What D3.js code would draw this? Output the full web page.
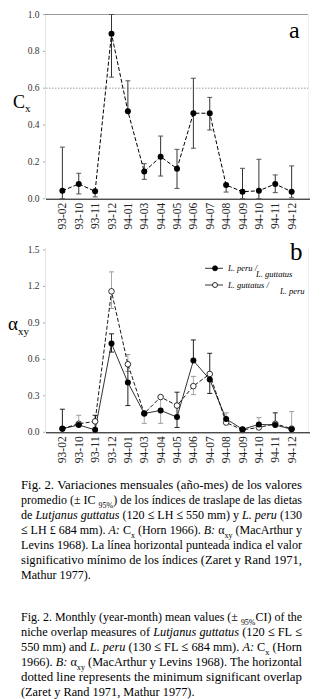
<!DOCTYPE html>
<html><head><meta charset="utf-8">
<script src="https://cdn.jsdelivr.net/npm/d3@7"></script>
<style>
html,body{margin:0;padding:0;background:#fff;}
svg{display:block;}
</style></head>
<body><svg id="c" width="329" height="699"></svg>
<script>
// ---------- DATA ----------
const months = ["93-02","93-10","93-11","93-12","94-01","94-03","94-04","94-05","94-06","94-07","94-08","94-09","94-10","94-11","94-12"];

// Panel a: Cx (Horn)
const cxMean = [0.043,0.08,0.04,0.895,0.475,0.147,0.228,0.163,0.464,0.464,0.074,0.038,0.043,0.08,0.038];
const cxLow  = [0.0,0.026,0.01,0.66,0.475,0.105,0.123,0.056,0.274,0.373,0.036,0.0,0.0,0.033,0.005];
const cxHigh = [0.28,0.138,0.04,1.0,0.64,0.19,0.34,0.268,0.654,0.55,0.074,0.165,0.214,0.129,0.178];
const cxTicks = [0,0.2,0.4,0.6,0.8,1.0];
const cxThreshold = 0.6;

// Panel b: alpha xy (MacArthur & Levins)
const seriesNames = ["L. peru / L. guttatus","L. guttatus / L. peru"];
const aPeruGut = [0.03,0.06,0.02,0.73,0.41,0.155,0.18,0.125,0.59,0.435,0.11,0.025,0.065,0.06,0.025];
const aPeruGutLow  = [0.03,0.06,0.02,0.66,0.22,0.155,0.18,0.04,0.59,0.32,0.11,0.025,0.065,0.06,0.025];
const aPeruGutHigh = [0.19,0.06,0.14,0.81,0.55,0.155,0.18,0.33,0.76,0.65,0.11,0.025,0.065,0.16,0.025];
const aGutPeru = [0.03,0.07,0.09,1.16,0.56,0.155,0.29,0.22,0.38,0.48,0.08,0.02,0.04,0.07,0.03];
const aGutPeruLow  = [0.03,0.07,0.09,1.02,0.50,0.074,0.074,0.22,0.31,0.48,0.08,0.02,0.04,0.07,0.03];
const aGutPeruHigh = [0.03,0.14,0.09,1.32,0.64,0.155,0.29,0.22,0.46,0.48,0.16,0.02,0.12,0.07,0.17];
const axyTicks = [0,0.3,0.6,0.9,1.2,1.5];

// Caption
const captionEs = [
 "Fig. 2. Variaciones mensuales (año-mes) de los valores",
 "promedio (± IC _{95%}) de los índices de traslape de las dietas",
 "de *Lutjanus* *guttatus* (120 ≤ LH ≤ 550 mm) y *L.* *peru* (130",
 "≤ LH £ 684 mm). *A:* C_{x} (Horn 1966). *B:* α_{xy} (MacArthur y",
 "Levins 1968). La línea horizontal punteada indica el valor",
 "significativo mínimo de los índices (Zaret y Rand 1971,",
 "Mathur 1977)."
];
const captionEn = [
 "Fig. 2. Monthly (year-month) mean values (± _{95%}CI) of the",
 "niche overlap measures of *Lutjanus* *guttatus* (120 ≤ FL ≤",
 "550 mm) and *L.* *peru* (130 ≤ FL ≤ 684 mm). *A:* C_{x} (Horn",
 "1966). *B:* α_{xy} (MacArthur y Levins 1968). The horizontal",
 "dotted line represents the minimum significant overlap",
 "(Zaret y Rand 1971, Mathur 1977)."
];

// ---------- DRAW ----------
const SERIF = "Liberation Serif";
const svg = d3.select("#c");
const x = d3.scalePoint().domain(months).range([46,308]).padding(1);

function panel(yScale, ticks, bottom, top) {
  const g = svg.append("g");
  g.append("line").attr("x1",45.5).attr("x2",45.5).attr("y1",top).attr("y2",bottom).attr("stroke","#e4e4e4");
  g.append("line").attr("x1",308.5).attr("x2",308.5).attr("y1",top).attr("y2",bottom).attr("stroke","#eeeeee");
  g.append("line").attr("x1",46).attr("x2",310).attr("y1",bottom+0.5).attr("y2",bottom+0.5).attr("stroke","#000").attr("stroke-width",1);
  ticks.forEach(t=>{
    g.append("text").attr("x",39.5).attr("y",yScale(t)+3).attr("text-anchor","end").style("font-family",SERIF)
      .attr("font-size",9.5).attr("fill","#333").text(d3.format(".1f")(t));
    g.append("rect").attr("x",43.5).attr("y",yScale(t)-0.5).attr("width",1).attr("height",1).attr("fill","#555");
  });
  months.forEach(m=>{
    g.append("text").attr("transform",`translate(${x(m)+4},${bottom+4}) rotate(-90)`).style("font-family",SERIF)
      .attr("text-anchor","end").attr("font-size",11.5).attr("fill","#222").text(m);
  });
  return g;
}

function errorBars(g, yScale, lo, hi, color, w) {
  months.forEach((m,i)=>{
    const cx = x(m);
    if (hi[i] > lo[i]) {
      g.append("line").attr("x1",cx).attr("x2",cx).attr("y1",yScale(lo[i])).attr("y2",yScale(hi[i]))
        .attr("stroke",color).attr("stroke-width",w);
    }
  });
}
function caps(g, yScale, vals, means, color) {
  months.forEach((m,i)=>{
    if (Math.abs(vals[i]-means[i])>0.005) {
      g.append("line").attr("x1",x(m)-2.5).attr("x2",x(m)+2.5).attr("y1",yScale(vals[i])).attr("y2",yScale(vals[i]))
        .attr("stroke",color).attr("stroke-width",1);
    }
  });
}

// ----- Panel a -----
const yA = d3.scaleLinear().domain([0,1]).range([198.7,14.5]);
const gA = panel(yA, cxTicks, 198.7, 14.5);
gA.append("line").attr("x1",45).attr("x2",308).attr("y1",yA(1)).attr("y2",yA(1)).attr("stroke","#999").attr("stroke-width",1);
gA.append("line").attr("x1",46).attr("x2",308).attr("y1",yA(cxThreshold)).attr("y2",yA(cxThreshold))
  .attr("stroke","#999").attr("stroke-width",1).attr("stroke-dasharray","1.5,1.5");
errorBars(gA, yA, cxLow, cxHigh, "#333", 1);
caps(gA, yA, cxLow, cxMean, "#555");
caps(gA, yA, cxHigh, cxMean, "#555");
gA.append("path").datum(cxMean).attr("fill","none").attr("stroke","#000").attr("stroke-width",1)
  .attr("stroke-dasharray","4,2")
  .attr("d", d3.line().x((d,i)=>x(months[i])).y(d=>yA(d)));
gA.selectAll("circle.a").data(cxMean).join("circle").attr("cx",(d,i)=>x(months[i])).attr("cy",d=>yA(d)).attr("r",3).attr("fill","#000");
svg.append("text").attr("x",13).attr("y",108).attr("font-size",18).style("font-family",SERIF).text("C")
  .append("tspan").attr("font-size",11).attr("dy",4).text("x");
svg.append("text").attr("x",289).attr("y",38).attr("font-size",24).style("font-family",SERIF).text("a");

// ----- Panel b -----
const yB = d3.scaleLinear().domain([0,1.5]).range([432.3,250]);
const gB = panel(yB, axyTicks, 432.3, 248);
errorBars(gB, yB, aGutPeruLow, aGutPeruHigh, "#aaa", 1);
caps(gB, yB, aGutPeruLow, aGutPeru, "#999");
caps(gB, yB, aGutPeruHigh, aGutPeru, "#999");
errorBars(gB, yB, aPeruGutLow, aPeruGutHigh, "#222", 1);
caps(gB, yB, aPeruGutLow, aPeruGut, "#222");
caps(gB, yB, aPeruGutHigh, aPeruGut, "#222");
const lineB = d3.line().x((d,i)=>x(months[i])).y(d=>yB(d));
gB.append("path").datum(aGutPeru).attr("fill","none").attr("stroke","#000").attr("stroke-width",0.9)
  .attr("stroke-dasharray","4,2").attr("d",lineB);
gB.append("path").datum(aPeruGut).attr("fill","none").attr("stroke","#000").attr("stroke-width",0.8).attr("d",lineB);
gB.selectAll("circle.o").data(aGutPeru).join("circle").attr("cx",(d,i)=>x(months[i])).attr("cy",d=>yB(d)).attr("r",2.8)
  .attr("fill","#fff").attr("stroke","#000").attr("stroke-width",0.8);
gB.selectAll("circle.f").data(aPeruGut).enter().append("circle").attr("cx",(d,i)=>x(months[i])).attr("cy",d=>yB(d)).attr("r",3).attr("fill","#000");
svg.append("text").attr("x",8).attr("y",330).attr("font-size",19).style("font-family",SERIF).text("α")
  .append("tspan").attr("font-size",11).attr("dy",5).text("xy");
svg.append("text").attr("x",290).attr("y",260).attr("font-size",25).style("font-family",SERIF).text("b");

// legend
const lg = svg.append("g");
[[268.3, true],[285, false]].forEach(([ly, filled],k)=>{
  lg.append("line").attr("x1",205).attr("x2",223).attr("y1",ly).attr("y2",ly).attr("stroke","#000").attr("stroke-width",0.8);
  lg.append("circle").attr("cx",215).attr("cy",ly).attr("r",2.5).attr("fill",filled?"#000":"#fff").attr("stroke","#000").attr("stroke-width",0.8);
  const parts = seriesNames[k].split(" / ");
  lg.append("text").attr("x",228).attr("y",ly+2.5).attr("font-size",8.5).attr("font-style","italic").style("font-family",SERIF).text(parts[0]+" /");
  lg.append("text").attr("x",k===0?256:280).attr("y",ly+9).attr("font-size",8.5).attr("font-style","italic").style("font-family",SERIF).text(parts[1]);
});

// ---------- Caption (justified, compressed horizontally where needed) ----------
const FS = 13.5;
function addSegs(t, word) {
  const toks = word.match(/(\*[^*]+\*|_\{[^}]+\}|[^*_]+)/g) || [];
  let shift = 0;
  toks.forEach(tok=>{
    let txt = tok, italic=false, sub=false;
    if (tok.startsWith("*")) { txt = tok.slice(1,-1); italic=true; }
    else if (tok.startsWith("_{")) { txt = tok.slice(2,-1); sub=true; }
    const want = sub ? 3.5 : 0;
    const ts = t.append("tspan").text(txt).attr("dy", want-shift);
    shift = want;
    if (italic) ts.attr("font-style","italic");
    if (sub) ts.attr("font-size", 9);
  });
}
function caption(lines, y0, lh) {
  const x0 = 21, W = 281, SP = FS*0.25;
  const scales = [];
  const built = lines.map((ln,li)=>{
    const y = y0 + li*lh;
    const g = svg.append("g");
    const nodes = ln.split(" ").map(w=>{
      const t = g.append("text").attr("font-size",FS).attr("fill","#000").style("font-family",SERIF);
      addSegs(t,w);
      return {t, w:t.node().getComputedTextLength()};
    });
    const total = d3.sum(nodes,n=>n.w);
    const natural = total + SP*(nodes.length-1);
    return {g, nodes, total, natural, y, last: li===lines.length-1};
  });
  built.forEach(b=>{ if(!b.last) scales.push(Math.min(1, W/b.natural)); });
  const lastScale = d3.median(scales);
  built.forEach(b=>{
    let s, gap;
    if (b.last) { s = lastScale; gap = SP; }
    else {
      s = Math.min(1, W/b.natural);
      gap = (W/s - b.total)/(b.nodes.length-1);
    }
    b.g.attr("transform",`translate(${x0},${b.y}) scale(${s},1)`);
    let cx = 0;
    b.nodes.forEach(n=>{ n.t.attr("x",cx); cx += n.w + gap; });
  });
}
caption(captionEs, 489, 15);
caption(captionEn, 621, 15);
</script></body></html>
